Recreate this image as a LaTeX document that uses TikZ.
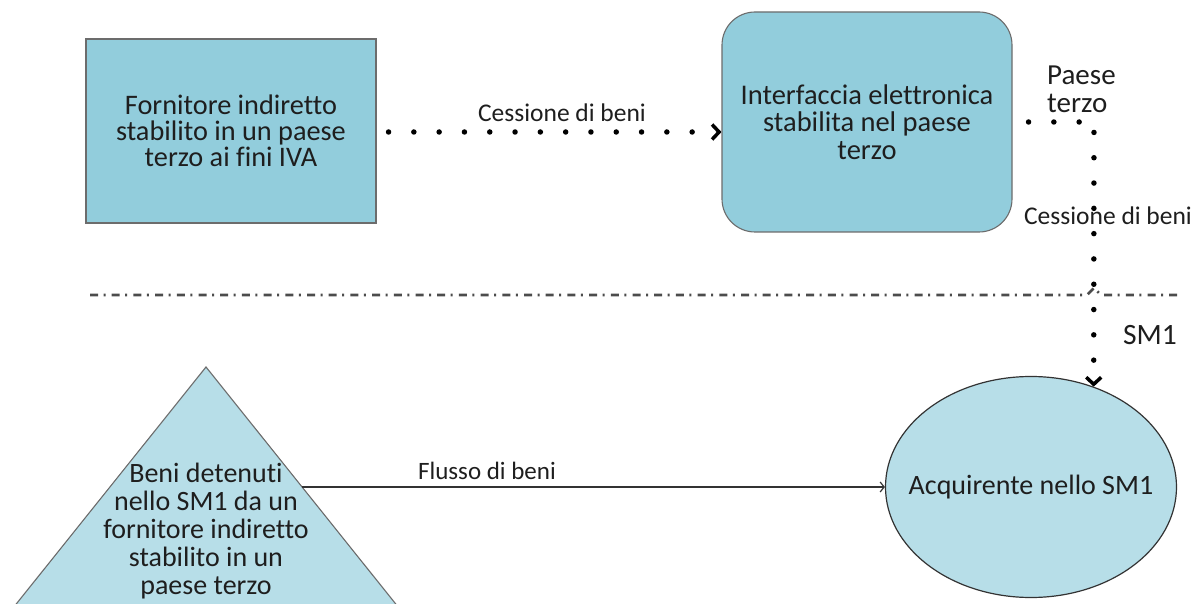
\documentclass[tikz,border=0pt]{standalone}
\usepackage{fontspec}
\setmainfont{Carlito}[Ligatures=NoCommon]
\usetikzlibrary{arrows.meta,shapes.geometric}
\definecolor{boxfill}{HTML}{92CDDC}
\definecolor{lightfill}{HTML}{B7DEE8}
\definecolor{txt}{HTML}{1E1E1E}
\tikzset{
  box/.style={draw=gray!85!black, line width=1.1pt, fill=boxfill, text=txt, align=center, inner sep=0pt,
    font=\fontsize{28.3}{26}\selectfont},
  dotarrow/.style={line width=5.5pt, line cap=round, dash pattern=on 0pt off 25.3pt,
    -{Straight Barb[length=7pt,width=15pt,line width=3.5pt]}},
  lbl/.style={text=txt, inner sep=0pt},
  sepline/.style={draw=black!70, line width=2.6pt, dash pattern=on 8pt off 5.5pt on 2pt off 6.2pt},
  flow/.style={draw=black!80, line width=1.2pt, -{Straight Barb[length=4pt,width=10pt,line width=1.2pt]}}
}
\begin{document}
\begin{tikzpicture}[x=1pt,y=-1pt]
\useasboundingbox (0,0) rectangle (1195,604);
\clip (0,0) rectangle (1195,604);
% top boxes
\node[box, minimum width=290pt, minimum height=184pt] (sup) at (231,131)
  {Fornitore indiretto\\stabilito in un paese\\terzo ai fini IVA};
\node[box, rounded corners=33pt, minimum width=290pt, minimum height=220pt,
  font=\fontsize{28.5}{27.5}\selectfont] (iface) at (867,122)
  {Interfaccia elettronica\\stabilita nel paese\\terzo};
% separator (with a small hop where the dotted connector crosses)
\coordinate (sepL) at (90,295);
\coordinate (sepR) at (1182,295);
\coordinate (hopA) at (1087,295);
\coordinate (hopT) at (1094,288);
\coordinate (hopB) at (1101,295);
\draw[sepline] (sepL) -- (hopA) -- (hopT) -- (hopB) -- (sepR);
% triangle
\draw[draw=gray!85!black, line width=1.1pt, fill=lightfill] (-12.6,640) -- (206,367) -- (424.6,640);
\coordinate (tri) at (302,487);
\node[lbl, align=center, font=\fontsize{28}{28.2}\selectfont] (trilabel) at (206,531)
  {Beni detenuti\\nello SM1 da un\\fornitore indiretto\\stabilito in un\\paese terzo};
% ellipse
\node[ellipse, draw=black!80, line width=1.2pt, fill=lightfill, minimum width=291pt, minimum height=221pt,
  inner sep=0pt, text=txt, font=\fontsize{28}{28}\selectfont] (buyer) at (1031,487)
  {\makebox[0pt][c]{Acquirente nello SM1}};
% connectors
\draw[dotarrow] ([xshift=12pt]sup.east |- 0,132) -- (iface.west |- 0,132);
\coordinate (corner) at (1094,122);
\draw[dotarrow] ([xshift=16pt]iface.east) -- (corner) -- (buyer.58);
\draw[flow] (tri) -- (buyer.west);
% labels
\node[lbl, font=\fontsize{25.5}{26}\selectfont] (l1) at (562,113) {Cessione di beni};
\node[lbl, anchor=west, align=left, font=\fontsize{29}{28}\selectfont] (l2) at (1047,89) {Paese\\terzo};
\node[lbl, font=\fontsize{25.5}{26}\selectfont] (l3) at (1108,216) {Cessione di beni};
\node[lbl, font=\fontsize{29.5}{30}\selectfont] (l4) at (1150,335) {SM1};
\node[lbl, font=\fontsize{25}{26}\selectfont] (l5) at (487,471) {Flusso di beni};
\end{tikzpicture}
\end{document}
